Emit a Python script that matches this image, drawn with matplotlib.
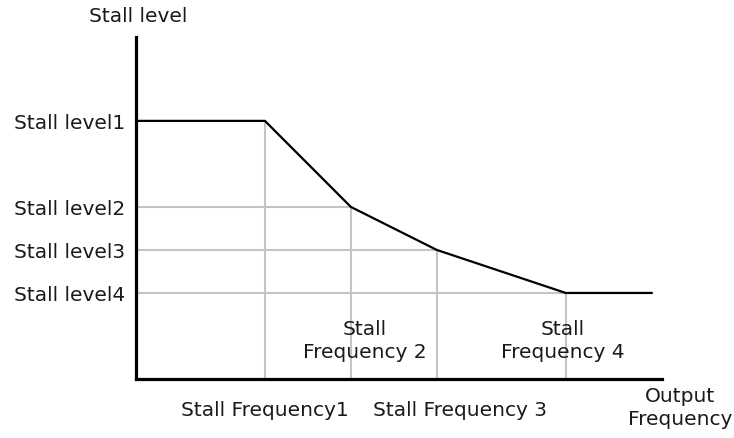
import matplotlib
matplotlib.use("Agg")
import matplotlib.pyplot as plt

# stall curve (arbitrary units)
stall_freqs = [1.5, 2.5, 3.5, 5.0]
stall_levels = [6.0, 4.0, 3.0, 2.0]
curve_x = [0.0] + stall_freqs + [6.0]
curve_y = [stall_levels[0]] + stall_levels + [stall_levels[-1]]
level_labels = ['Stall level1', 'Stall level2', 'Stall level3', 'Stall level4']

fig = plt.figure(figsize=(7.34, 4.39), dpi=100)
ax = fig.add_axes([136 / 734, 59 / 439, 526 / 734, 342 / 439])
ax.set_xlim(0, 6.12)
ax.set_ylim(0, 7.95)

grey = '#c4c4c4'
for fx, lv in zip(stall_freqs, stall_levels):
  ax.plot([fx, fx], [0, lv], color=grey, lw=1.5, zorder=1)
  ax.plot([0, fx], [lv, lv], color=grey, lw=1.5, zorder=1)

ax.plot(curve_x, curve_y, color='black', lw=1.6, zorder=2)

for s in ['top', 'right']:
  ax.spines[s].set_visible(False)
for s in ['left', 'bottom']:
  ax.spines[s].set_linewidth(2.3)

fs = 14.5
tc = '#1a1a1a'
ax.set_xticks([])
ax.set_yticks(stall_levels)
ax.set_yticklabels(level_labels, fontsize=fs, color=tc)
ax.tick_params(axis='y', length=0, pad=8)

ax.text(0.02, 8.45, 'Stall level', fontsize=fs, ha='center', va='center', color=tc)
ax.text(stall_freqs[0], -0.7, 'Stall Frequency1', fontsize=fs, ha='center', va='center', color=tc)
ax.text(stall_freqs[2] + 0.27, -0.7, 'Stall Frequency 3', fontsize=fs, ha='center', va='center',
        color=tc)
ax.text(stall_freqs[1] + 0.16, 0.9, 'Stall\nFrequency 2', fontsize=fs, ha='center', va='center',
        linespacing=1.25, color=tc)
ax.text(stall_freqs[3] - 0.03, 0.9, 'Stall\nFrequency 4', fontsize=fs, ha='center', va='center',
        linespacing=1.25, color=tc)
ax.text(6.33, -0.65, 'Output\nFrequency', fontsize=fs, ha='center', va='center',
        linespacing=1.25, clip_on=False, color=tc)

fig.savefig('out.png', dpi=100)
